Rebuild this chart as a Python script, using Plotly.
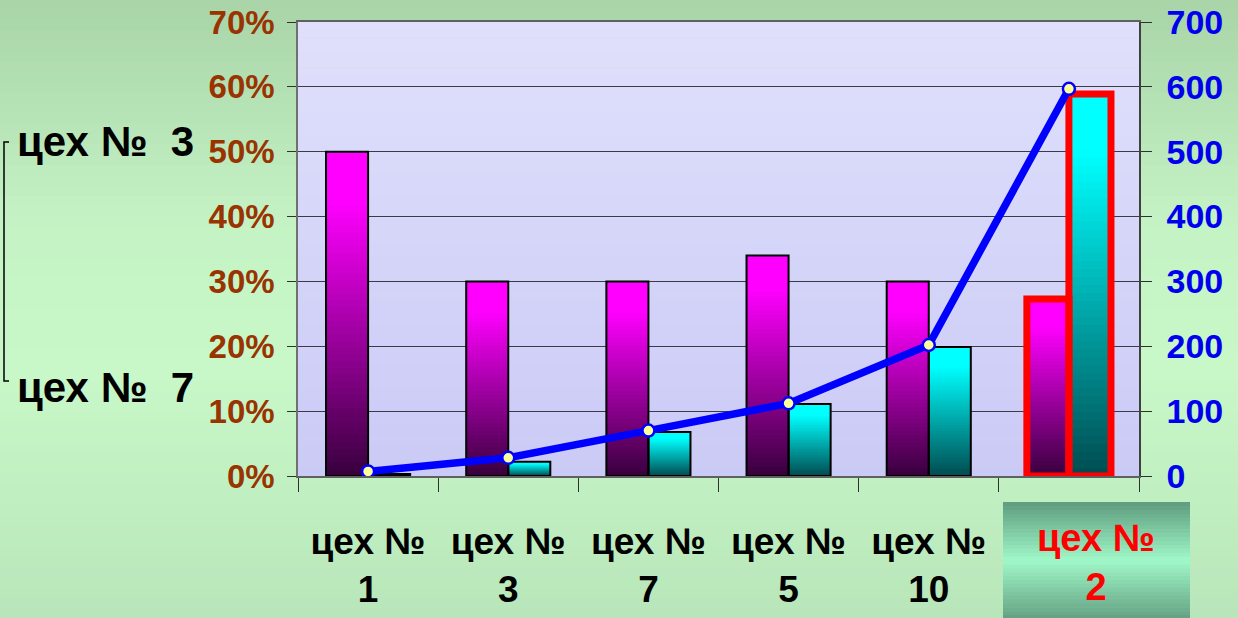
import plotly.graph_objects as go

# ---------------- data ----------------
categories = ["цех № 1", "цех № 3", "цех № 7", "цех № 5", "цех № 10", "цех № 2"]
tick_labels = ["цех №<br>1", "цех №<br>3", "цех №<br>7", "цех №<br>5", "цех №<br>10", ""]
share_pct = [50, 30, 30, 34, 30, 27.3]          # magenta bars, left axis (%)
loss_pct = [0.3, 2.2, 6.8, 11.1, 19.9, 58.9]    # cyan bars, left axis (%)
line_vals = [7, 28, 70, 112, 202, 597]          # blue line, right axis
left_ticks = [0, 10, 20, 30, 40, 50, 60, 70]
right_ticks = [0, 100, 200, 300, 400, 500, 600, 700]
side_top = "цех №\u00a0\u00a03"
side_bottom = "цех №\u00a0\u00a07"
highlight_label = "цех №<br>2"

# ---------------- geometry helpers ----------------
W, H = 1238, 618
ML, MR, MT, MB = 298, 99, 22, 142
PW, PH = W - ML - MR, H - MT - MB


def pxx(px):
    return (px - ML) / PW


def pxy(py):
    return (H - MB - py) / PH


def lerp(c1, c2, t):
    return "rgb({},{},{})".format(*[round(a + (b - a) * t) for a, b in zip(c1, c2)])


def multi_lerp(stops, t):
    for i in range(len(stops) - 1):
        t0, c0 = stops[i]
        t1, c1 = stops[i + 1]
        if t0 <= t <= t1:
            return lerp(c0, c1, (t - t0) / (t1 - t0) if t1 > t0 else 0)
    return lerp(stops[-1][1], stops[-1][1], 0)


fig = go.Figure()

# gradient bars: nested bars from the full value down, darker colours drawn on top
N = 48
mag_stops = [(0, (56, 0, 60)), (0.85, (255, 0, 255)), (1, (255, 0, 255))]
cy_stops = [(0, (0, 76, 80)), (0.85, (0, 255, 255)), (1, (0, 255, 255))]
for k in range(N):
    frac = (N - k) / N
    t = (N - k - 0.5) / N  # colour of the visible top slice of this bar
    fig.add_trace(go.Bar(
        x=categories, y=[v * frac for v in share_pct],
        offset=-0.3, width=0.3, marker=dict(color=multi_lerp(mag_stops, t), line=dict(width=0)),
        hoverinfo="skip", showlegend=False))
    fig.add_trace(go.Bar(
        x=categories, y=[v * frac for v in loss_pct],
        offset=0.0, width=0.3, marker=dict(color=multi_lerp(cy_stops, t), line=dict(width=0)),
        hoverinfo="skip", showlegend=False))

edge_colors = ["black"] * 5 + ["red"]
edge_widths = [2] * 5 + [7]
fig.add_trace(go.Bar(x=categories, y=share_pct, offset=-0.3, width=0.3,
                     marker=dict(color="rgba(0,0,0,0)", line=dict(color=edge_colors, width=edge_widths)),
                     showlegend=False))
fig.add_trace(go.Bar(x=categories, y=loss_pct, offset=0.0, width=0.3,
                     marker=dict(color="rgba(0,0,0,0)", line=dict(color=edge_colors, width=edge_widths)),
                     showlegend=False))

fig.add_trace(go.Scatter(x=categories, y=line_vals, yaxis="y2", mode="lines+markers",
                         line=dict(color="#0000FF", width=7.5),
                         marker=dict(size=12, color="#FFFF99", line=dict(color="#0000FF", width=2.5)),
                         showlegend=False))

# ---------------- background shapes ----------------
shapes = []
bg_stops = [(0, (168, 212, 168)), (0.35, (196, 242, 196)), (0.6, (200, 248, 200)), (1, (184, 230, 186))]
NB = 60
for i in range(NB):
    y0p = i * H / NB - (1 if i == 0 else 0)
    y1p = (i + 1) * H / NB + (1 if i == NB - 1 else 0.5)
    shapes.append(dict(type="rect", xref="paper", yref="paper", layer="below",
                       x0=pxx(-2), x1=pxx(W + 2), y0=pxy(y1p), y1=pxy(y0p),
                       fillcolor=multi_lerp(bg_stops, (i + 0.5) / NB), line=dict(width=0)))
pa_stops = [(0, (224, 224, 252)), (1, (202, 202, 246))]
for i in range(NB):
    shapes.append(dict(type="rect", xref="paper", yref="paper", layer="below",
                       x0=0, x1=1, y0=1 - (i + 1) / NB - 0.001, y1=1 - i / NB,
                       fillcolor=multi_lerp(pa_stops, (i + 0.5) / NB), line=dict(width=0)))
# highlighted label box
box_stops = [(0, (94, 156, 126)), (0.5, (160, 248, 200)), (1, (100, 160, 130))]
bx0, bx1, by0, by1 = 1003, 1190, 502, 619
NBX = 30
for i in range(NBX):
    ya = by0 + i * (by1 - by0) / NBX
    yb = by0 + (i + 1) * (by1 - by0) / NBX + 0.5
    shapes.append(dict(type="rect", xref="paper", yref="paper", layer="below",
                       x0=pxx(bx0), x1=pxx(bx1), y0=pxy(yb), y1=pxy(ya),
                       fillcolor=multi_lerp(box_stops, (i + 0.5) / NBX), line=dict(width=0)))
# bracket on the left
shapes.append(dict(type="path", xref="paper", yref="paper", layer="above",
                   path="M {a},{b} L {c},{b} L {c},{d} L {a},{d}".format(
                       a=pxx(9), b=pxy(142), c=pxx(4), d=pxy(381)),
                   line=dict(color="black", width=1.5)))

font_main = "Liberation Sans, Arial, sans-serif"
annotations = [
    dict(text="<b>%s</b>" % side_top, xref="paper", yref="paper", x=pxx(15), y=pxy(141),
         xanchor="left", yanchor="middle", showarrow=False, font=dict(size=42, color="black", family=font_main)),
    dict(text="<b>%s</b>" % side_bottom, xref="paper", yref="paper", x=pxx(15), y=pxy(387),
         xanchor="left", yanchor="middle", showarrow=False, font=dict(size=42, color="black", family=font_main)),
    dict(text="<b>%s</b>" % highlight_label, xref="paper", yref="paper", x=pxx(1096), y=pxy(562),
         xanchor="center", yanchor="middle", showarrow=False, font=dict(size=38, color="#FF0000", family=font_main)),
]

fig.update_layout(
    width=W, height=H,
    margin=dict(l=ML, r=MR, t=MT, b=MB, autoexpand=False),
    paper_bgcolor="rgb(196,240,196)",
    plot_bgcolor="rgba(0,0,0,0)",
    barmode="overlay",
    shapes=shapes,
    annotations=annotations,
    font=dict(family=font_main),
    xaxis=dict(
        type="category", categoryorder="array", categoryarray=categories,
        tickmode="array", tickvals=categories, ticktext=["<b>%s</b>" % t if t else "" for t in tick_labels],
        tickson="boundaries", ticks="outside", ticklen=14, tickcolor="#303030", tickwidth=1.2,
        showline=True, linecolor="#606060", linewidth=1.5, mirror=True,
        showgrid=False, tickfont=dict(size=37, color="black"), ticklabelstandoff=32,
        range=[-0.5, 5.5], fixedrange=True, automargin=False,
    ),
    yaxis=dict(
        range=[0, 70], tickvals=left_ticks, ticktext=["<b>%d%%</b>" % v for v in left_ticks],
        ticks="outside", ticklen=9, tickcolor="#303030",
        showgrid=True, gridcolor="#3a3a4a", gridwidth=1.2,
        showline=True, linecolor="#707070", linewidth=1.5, automargin=False,
        tickfont=dict(size=33, color="#993300"), zeroline=False, ticklabelstandoff=6,
    ),
    yaxis2=dict(
        range=[0, 700], tickvals=right_ticks, ticktext=["<b>%d</b>" % v for v in right_ticks],
        overlaying="y", side="right", ticks="outside", ticklen=11, tickcolor="#303030",
        showgrid=False, showline=True, linecolor="#404040", linewidth=1.5, automargin=False,
        tickfont=dict(size=34, color="#0000EE"), zeroline=False, ticklabelstandoff=8,
    ),
)

fig.write_html("out.html")
